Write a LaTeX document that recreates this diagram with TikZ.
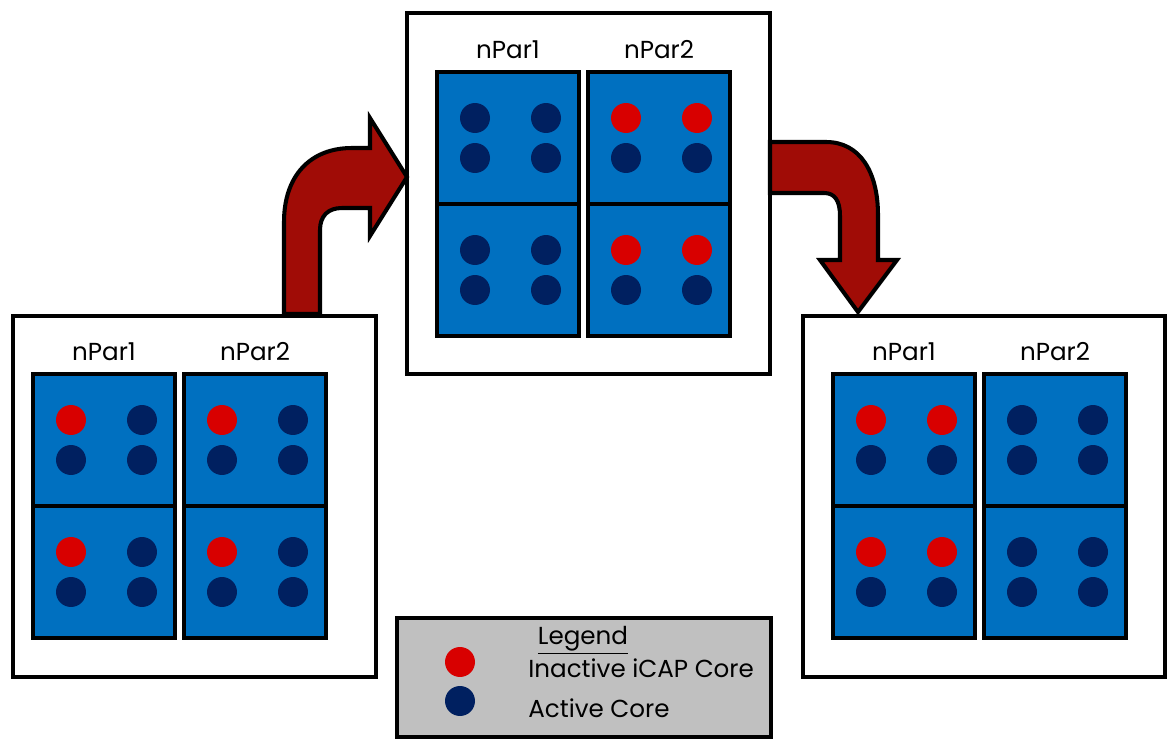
\documentclass[tikz,border=0pt]{standalone}
\usepackage{fontspec}
\setmainfont{Poppins}
\usetikzlibrary{positioning}
\definecolor{cellblue}{HTML}{0070C0}
\definecolor{coreblue}{HTML}{002060}
\definecolor{corered}{HTML}{D80000}
\definecolor{arrowred}{HTML}{A00C06}
\definecolor{legendgray}{HTML}{C0C0C0}
\tikzset{
  panel/.style   ={draw=black, line width=2.3pt, fill=white, inner sep=0pt,
                   minimum width=7.26cm, minimum height=7.22cm},
  part/.style    ={draw=black, line width=2.5pt, fill=cellblue, inner sep=0pt,
                   minimum width=2.84cm, minimum height=2.64cm},
  core/.style    ={circle, fill=coreblue, minimum size=0.6cm, inner sep=0pt},
  idle/.style    ={core, fill=corered},
  parlabel/.style={font=\fontsize{14}{16}\selectfont, inner sep=0pt},
  legtext/.style ={font=\fontsize{14}{16}\selectfont, anchor=west, inner sep=0pt},
  blockarrow/.style={draw=black, line width=2.3pt, fill=arrowred, line join=miter},
}

\begin{document}
\begin{tikzpicture}[x=0.02cm, y=-0.02cm]
\useasboundingbox (0,0) rectangle (1171,740);

% Three snapshots: box centre, grid corner, red cores per partition
\foreach \p/\cx/\cy/\gx/\gy/\na/\nb in {L/194.5/496.5/33/374/1/1,
                                        M/588.5/193.5/437/72/0/2,
                                        R/984/496.5/833/374/2/0} {
  \node[panel] (\p) at (\cx,\cy) {};
  \foreach \c/\n in {1/\na, 2/\nb} {
    \pgfmathsetmacro\px{\gx+71+(\c-1)*151}
    \node[parlabel] (\p-lab\c) at (\px, \gy-22) {nPar\c};
    \foreach \r in {1,2} {
      \pgfmathsetmacro\py{\gy+66+(\r-1)*132}
      \node[part] (\p-\c-\r) at (\px,\py) {};
      \foreach \d/\dx/\dy in {1/-33/-20, 2/38/-20, 3/-33/20, 4/38/20} {
        \ifnum\d>\n\relax \def\kind{core}\else \def\kind{idle}\fi
        \node[\kind] (\p-\c-\r-\d) at ([shift={(\dx,\dy)}]\p-\c-\r) {};
      }
    }
  }
}

% Block arrows between the snapshots
\draw[blockarrow] (284,314) -- (284,222) .. controls (284,176) and (310,148) .. (352,148)
  -- (370,148) -- (370,118) -- (407,177) -- (370,236) -- (370,208) -- (342,208)
  .. controls (328,208) and (320,216) .. (320,230) -- (320,314) -- cycle;
\draw[blockarrow] (770,142) -- (826,142) .. controls (860,142) and (878,172) .. (878,215)
  -- (878,260) -- (897,260) -- (858,312) -- (820,260) -- (840,260) -- (840,216)
  .. controls (840,201) and (835,193) .. (824,193) -- (770,193) -- cycle;

% Legend
\node[draw=black, line width=2.6pt, fill=legendgray, inner sep=0pt,
      minimum width=7.48cm, minimum height=2.38cm] (legend) at (584,677.5) {};
\node[legtext, anchor=center] (legtitle) at (583,640) {\underline{Legend}};
\node[idle] (key-idle) at (460,662) {};
\node[core] (key-core) at (460,701) {};
\node[legtext] (txt-idle) at (528,668) {Inactive iCAP Core};
\node[legtext] (txt-core) at (528,708) {Active Core};

\end{tikzpicture}
\end{document}
